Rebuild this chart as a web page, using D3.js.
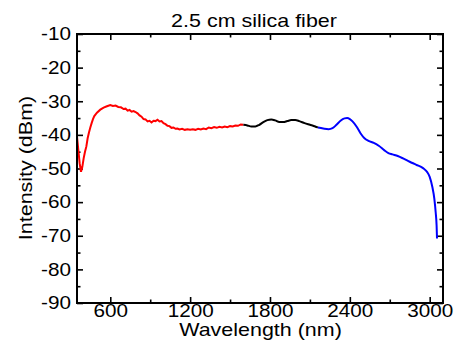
<!DOCTYPE html>
<meta charset="utf-8">
<script src="https://d3js.org/d3.v7.min.js"></script>
<style>
  body { margin: 0; background: #fff; }
  text { font-family: "Liberation Sans", Arial, sans-serif; fill: #000; }
</style>
<div id="my_dataviz"></div>
<script>

// red segment (visible range)
var redWl = [350,360,370,380,390,400,410,420,430,440,450,460,470,480,500,525,550,575,600,620,640,660,680,700,715,730,745,760,775,790,805,820,835,850,865,880,895,910,925,940,955,970,985,1000,1015,1030,1045,1060,1075,1090,1105,1120,1140,1160,1180,1200,1220,1240,1260,1280,1300,1320,1340,1360,1380,1400,1420,1440,1460,1480,1500,1520,1540,1560,1580,1600];
var redDb = [-40.5,-44.5,-48.5,-51.0,-49.5,-47.0,-45.0,-43.5,-41.0,-39.3,-37.8,-36.5,-35.3,-34.4,-33.4,-32.5,-31.9,-31.5,-31.1,-31.4,-31.3,-31.7,-31.8,-32.3,-32.2,-32.8,-32.6,-33.1,-32.9,-33.2,-33.6,-34.2,-34.6,-35.3,-35.4,-36.0,-35.8,-36.3,-35.8,-35.9,-35.5,-36.0,-35.9,-36.5,-36.8,-37.3,-37.4,-37.9,-37.8,-38.2,-38.1,-38.4,-38.2,-38.5,-38.3,-38.5,-38.3,-38.5,-38.2,-38.4,-38.1,-38.3,-37.8,-38.0,-37.7,-37.9,-37.6,-37.8,-37.5,-37.7,-37.4,-37.5,-37.2,-37.3,-36.9,-37.0];

// black segment
var blackWl = [1600,1630,1660,1690,1720,1750,1780,1810,1840,1870,1900,1930,1960,1990,2020,2060,2100,2140,2160];
var blackDb = [-37.0,-37.2,-37.5,-37.5,-37.0,-36.2,-35.6,-35.4,-35.7,-36.2,-36.2,-35.9,-35.6,-35.6,-35.9,-36.5,-37.0,-37.5,-37.8];

// blue segment
var blueWl = [2160,2200,2240,2270,2300,2330,2360,2380,2400,2420,2450,2480,2510,2540,2580,2620,2660,2690,2720,2760,2800,2850,2900,2950,2980,3000,3020,3035,3045,3052,3055];
var blueDb = [-37.8,-38.1,-38.3,-38.0,-37.0,-35.8,-35.1,-35.0,-35.3,-36.0,-37.5,-39.5,-41.0,-41.8,-42.4,-43.3,-44.6,-45.4,-45.8,-46.3,-47.0,-48.0,-48.9,-49.9,-51.0,-52.5,-55.5,-59.0,-63.0,-67.0,-70.8];

var xTicks = [600, 1200, 1800, 2400, 3000];
var xMinor = [900, 1500, 2100, 2700];
var yTicks = [-90, -80, -70, -60, -50, -40, -30, -20, -10];
var yMinor = [-85, -75, -65, -55, -45, -35, -25, -15];

var W = 457, H = 349;
var pLeft = 77, pRight = 443, pTop = 34, pBottom = 303;
var sx = 1.15; // the lettering in the picture is a bit wider than Arial

var svg = d3.select("#my_dataviz")
  .append("svg")
    .attr("width", W)
    .attr("height", H);

var x = d3.scaleLinear().domain([350, 3100]).range([pLeft, pRight]);
var y = d3.scaleLinear().domain([-90, -10]).range([pBottom, pTop]);

function zip(a, b) { return a.map(function(v, i) { return [v, b[i]]; }); }
var plain = function(d) { return String(d); }; // plain hyphen for negatives

var lineLin = d3.line()
  .x(function(d) { return x(d[0]); })
  .y(function(d) { return y(d[1]); });
var lineSmooth = d3.line()
  .curve(d3.curveMonotoneX)
  .x(function(d) { return x(d[0]); })
  .y(function(d) { return y(d[1]); });

// axes: major ticks with labels, minor without, mirrored on top/right
function styleAxis(g, lw) {
  g.select(".domain").remove();
  g.selectAll(".tick line").attr("stroke", "#000").attr("stroke-width", lw);
}

var gb = svg.append("g").attr("transform", "translate(0," + pBottom + ")")
  .call(d3.axisBottom(x).tickValues(xTicks).tickSize(-6).tickFormat(plain));
styleAxis(gb, 1.6);
gb.selectAll("text")
  .attr("y", 1.5).attr("dy", "0.71em")
  .attr("font-size", 18)
  .attr("font-family", "Liberation Sans, Arial, sans-serif")
  .attr("transform", "scale(" + sx + ",1)");
styleAxis(svg.append("g").attr("transform", "translate(0," + pBottom + ")")
  .call(d3.axisBottom(x).tickValues(xMinor).tickSize(-3.5).tickFormat("")), 1.6);

styleAxis(svg.append("g").attr("transform", "translate(0," + pTop + ")")
  .call(d3.axisTop(x).tickValues(xTicks).tickSize(-6).tickFormat("")), 1.6);
styleAxis(svg.append("g").attr("transform", "translate(0," + pTop + ")")
  .call(d3.axisTop(x).tickValues(xMinor).tickSize(-3.5).tickFormat("")), 1.6);

var gl = svg.append("g").attr("transform", "translate(" + pLeft + ",0)")
  .call(d3.axisLeft(y).tickValues(yTicks).tickSize(-6).tickFormat(plain));
styleAxis(gl, 1.6);
gl.selectAll("text")
  .attr("x", -6 / sx)
  .attr("font-size", 18)
  .attr("font-family", "Liberation Sans, Arial, sans-serif")
  .attr("transform", "scale(" + sx + ",1)");
styleAxis(svg.append("g").attr("transform", "translate(" + pLeft + ",0)")
  .call(d3.axisLeft(y).tickValues(yMinor).tickSize(-3.5).tickFormat("")), 1.6);

styleAxis(svg.append("g").attr("transform", "translate(" + pRight + ",0)")
  .call(d3.axisRight(y).tickValues(yTicks).tickSize(-6).tickFormat("")), 1.6);
styleAxis(svg.append("g").attr("transform", "translate(" + pRight + ",0)")
  .call(d3.axisRight(y).tickValues(yMinor).tickSize(-3.5).tickFormat("")), 1.6);

// curves
svg.append("path").datum(zip(redWl, redDb))
  .attr("d", lineLin).attr("fill", "none").attr("stroke", "#ff0000").attr("stroke-width", 2);
svg.append("path").datum(zip(blackWl, blackDb))
  .attr("d", lineSmooth).attr("fill", "none").attr("stroke", "#000").attr("stroke-width", 2);
svg.append("path").datum(zip(blueWl, blueDb))
  .attr("d", lineSmooth).attr("fill", "none").attr("stroke", "#0000ff").attr("stroke-width", 2);

// frame
svg.append("rect")
  .attr("x", pLeft).attr("y", pTop)
  .attr("width", pRight - pLeft).attr("height", pBottom - pTop)
  .attr("fill", "none").attr("stroke", "#000").attr("stroke-width", 2);

// titles
svg.append("g").attr("transform", "translate(254,27)")
  .append("text")
    .attr("text-anchor", "middle").attr("font-size", 19)
    .attr("transform", "scale(1.13,1)")
    .text("2.5 cm silica fiber");

svg.append("g").attr("transform", "translate(260.5,336)")
  .append("text")
    .attr("text-anchor", "middle").attr("font-size", 19)
    .attr("transform", "scale(1.13,1)")
    .text("Wavelength (nm)");

svg.append("g").attr("transform", "translate(32,168) rotate(-90)")
  .append("text")
    .attr("text-anchor", "middle").attr("font-size", 19)
    .attr("transform", "scale(1.13,1)")
    .text("Intensity (dBm)");

</script>
